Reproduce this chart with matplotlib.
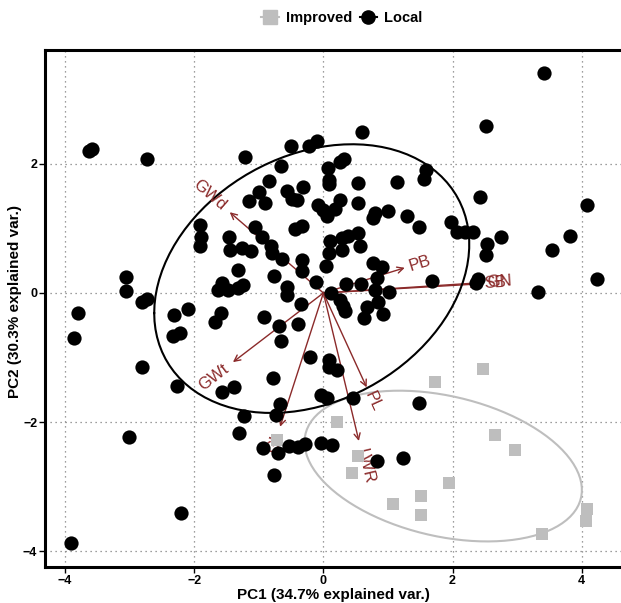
""" PCA biplot of Improved vs Local accessions with trait loadings
    and 68% concentration ellipses for each group """

import numpy as np
import matplotlib.pyplot as plt
from matplotlib.lines import Line2D

plt.rcParams['font.family'] = ['Liberation Sans', 'DejaVu Sans']

# PC scores
local_pc1 = [-3.63, -3.58, -2.73, -1.22, -0.50, -0.22, -0.10, 0.60, 2.52, 3.41,
             -0.66, -0.84, -1.15, -1.00, -0.91, -0.57, -0.49, -0.41, -0.32, 0.07,
             0.09, 0.09, 0.26, 0.32, 0.53, 1.14, 1.59, 1.56, 2.42, 4.08,
             0.53, -0.09, -0.01, 0.05, 0.18, 0.26, 0.80, 0.77, 1.00, 1.29,
             1.48, 1.97, 2.07, 2.19, 2.31, 2.53, 2.52, 2.75, 3.82, 3.54,
             4.23, 3.32, 2.39, 2.36, 1.68, -1.91, -1.90, -1.91, -1.06, -0.44,
             -0.33, -1.46, -1.45, -0.95, -1.26, -1.12, -0.81, -0.80, -0.64, -0.33,
             -0.33, 0.10, 0.09, 0.04, 0.29, 0.38, 0.53, 0.57, 0.29, 0.77,
             0.91, 0.83, 0.35, 0.58, 0.80, 1.01, 0.12, 0.26, 0.30, 0.33,
             0.84, 0.67, 0.63, 0.92, -1.32, -0.77, -0.12, -1.57, -1.63, -1.48,
             -1.32, -1.25, -0.57, -0.57, -0.35, -2.10, -1.59, -1.68, -0.92, -0.69,
             -0.66, -0.39, -3.06, -3.06, -2.81, -2.73, -3.80, -3.86, -2.31, -2.33,
             -2.22, -2.81, -2.27, -3.01, -2.21, -3.91, -0.21, 0.09, 0.09, 0.21,
             -0.78, -1.57, -1.39, -0.67, -0.74, -1.23, -1.31, -0.04, 0.05, 0.46,
             1.48, -0.94, -0.70, -0.53, -0.39, -0.29, -0.04, 0.13, -0.77, 0.83,
             1.23]
local_pc2 = [2.20, 2.23, 2.07, 2.11, 2.28, 2.28, 2.35, 2.49, 2.59, 3.41,
             1.97, 1.73, 1.42, 1.56, 1.39, 1.58, 1.46, 1.44, 1.64, 1.93,
             1.75, 1.69, 2.03, 2.07, 1.70, 1.72, 1.90, 1.76, 1.49, 1.36,
             1.39, 1.36, 1.28, 1.19, 1.30, 1.44, 1.24, 1.16, 1.27, 1.19,
             1.02, 1.10, 0.94, 0.94, 0.94, 0.76, 0.59, 0.87, 0.88, 0.67,
             0.22, 0.02, 0.22, 0.15, 0.19, 1.05, 0.87, 0.73, 1.02, 0.99,
             1.04, 0.87, 0.67, 0.87, 0.70, 0.65, 0.73, 0.62, 0.53, 0.51,
             0.34, 0.80, 0.62, 0.42, 0.85, 0.88, 0.93, 0.73, 0.67, 0.46,
             0.40, 0.23, 0.14, 0.14, 0.05, 0.02, 0.00, -0.11, -0.20, -0.28,
             -0.14, -0.22, -0.39, -0.33, 0.36, 0.26, 0.17, 0.15, 0.05, 0.05,
             0.08, 0.12, 0.09, -0.03, -0.17, -0.25, -0.31, -0.45, -0.37, -0.51,
             -0.74, -0.48, 0.25, 0.03, -0.14, -0.09, -0.31, -0.70, -0.34, -0.67,
             -0.62, -1.15, -1.44, -2.23, -3.41, -3.87, -0.99, -1.04, -1.15, -1.19,
             -1.32, -1.53, -1.46, -1.72, -1.89, -1.90, -2.17, -1.58, -1.63, -1.63,
             -1.70, -2.40, -2.48, -2.37, -2.38, -2.34, -2.32, -2.35, -2.82, -2.60,
             -2.55]

improved_pc1 = [1.73, 2.47, 0.21, 2.65, 2.96, 0.53, 0.44, 1.94, 1.51, 1.08,
                1.51, 4.08, 4.06, 3.38, -0.72]
improved_pc2 = [-1.38, -1.18, -2.00, -2.20, -2.43, -2.52, -2.79, -2.94, -3.14, -3.27,
                -3.44, -3.34, -3.53, -3.73, -2.28]

# Scaled variable loadings
var_names = ['GWd', 'PB', 'SB', 'GN', 'GWt', 'GL', 'PL', 'LWR']
var_pc1 = [-1.45, 1.26, 2.40, 2.45, -1.40, -0.67, 0.67, 0.55]
var_pc2 = [1.25, 0.39, 0.14, 0.16, -1.07, -2.07, -1.46, -2.29]

ellipse_prob = 0.68


def concentration_ellipse(x, y, prob, n=100):
    """ ggbiplot style ellipse: ed * circle %*% chol(sigma) + mu """
    xy = np.column_stack([x, y])
    sigma = np.cov(xy, rowvar=False)
    mu = xy.mean(axis=0)
    ed = np.sqrt(-2 * np.log(1 - prob))
    theta = np.linspace(-np.pi, np.pi, n)
    circle = np.column_stack([np.cos(theta), np.sin(theta)])
    upper = np.linalg.cholesky(sigma).T
    return ed * circle @ upper + mu


fig = plt.figure(figsize=(6.21, 6.03), dpi=100)
ax = fig.add_axes([45 / 621, 36 / 603, 580 / 621, 517 / 603])

arrow_col = '#8b2a2a'
label_col = '#8b2a2a'

# Loading arrows
for name, vx, vy in zip(var_names, var_pc1, var_pc2):
    ax.annotate('', xy=(vx, vy), xytext=(0, 0),
                arrowprops=dict(arrowstyle='->', color=arrow_col, lw=1.0,
                                shrinkA=0, shrinkB=0, mutation_scale=11),
                zorder=2)

# Ellipses
for xs, ys, col in [(improved_pc1, improved_pc2, '#bebebe'),
                    (local_pc1, local_pc2, 'black')]:
    ell = concentration_ellipse(xs, ys, ellipse_prob)
    ax.plot(ell[:, 0], ell[:, 1], color=col, lw=1.5, zorder=3)

# Variable names with hjust = (1 - 1.5 * sign(x)) / 2
fs = 12
for name, vx, vy in zip(var_names, var_pc1, var_pc2):
    angle = np.degrees(np.arctan(vy / vx))
    rad = np.radians(angle)
    shift = 0.25 * len(name) * 0.62 * fs * np.sign(vx)
    ax.annotate(name, xy=(vx, vy),
                xytext=(shift * np.cos(rad), shift * np.sin(rad)),
                textcoords='offset points', rotation=angle,
                rotation_mode='anchor', ha='left' if vx > 0 else 'right',
                va='center', color=label_col, fontsize=fs, zorder=4)

# Points
ax.scatter(improved_pc1, improved_pc2, marker='s', s=80, color='#bebebe',
           linewidths=0, zorder=5)
ax.scatter(local_pc1, local_pc2, marker='o', s=105, color='black',
           linewidths=0, zorder=5)

ax.set_xlim(-4.31, 4.67)
ax.set_ylim(-4.24, 3.76)
ax.set_xticks([-4, -2, 0, 2, 4])
ax.set_yticks([-4, -2, 0, 2])
ax.grid(True, color='#7f7f7f', linestyle=(0, (1, 3)), lw=0.9)
ax.set_axisbelow(True)
for side in ['left', 'bottom', 'top', 'right']:
    ax.spines[side].set_linewidth(2.2)
    ax.spines[side].set_color('black')
ax.tick_params(length=4, width=1, colors='black', labelsize=9, pad=1.5)
for lab in ax.get_xticklabels() + ax.get_yticklabels():
    lab.set_fontweight('bold')
ax.set_xlabel('PC1 (34.7% explained var.)', fontsize=11, fontweight='bold',
              va='center', ha='center')
ax.set_ylabel('PC2 (30.3% explained var.)', fontsize=11, fontweight='bold',
              va='center', ha='center')
ax.xaxis.set_label_coords(0.497, -0.054)
ax.yaxis.set_label_coords(-0.052, 0.514)

handles = [Line2D([], [], color='#bebebe', marker='s', markersize=9.5, lw=1.5),
           Line2D([], [], color='black', marker='o', markersize=9.5, lw=1.5)]
fig.legend(handles, ['Improved', 'Local'], loc='center',
           bbox_to_anchor=(342 / 621, 1 - 18 / 603), ncol=2, frameon=False,
           handlelength=1.2, handletextpad=0.5, columnspacing=0.5,
           prop={'weight': 'bold', 'size': 10.5})

fig.savefig('out.png', dpi=100)
